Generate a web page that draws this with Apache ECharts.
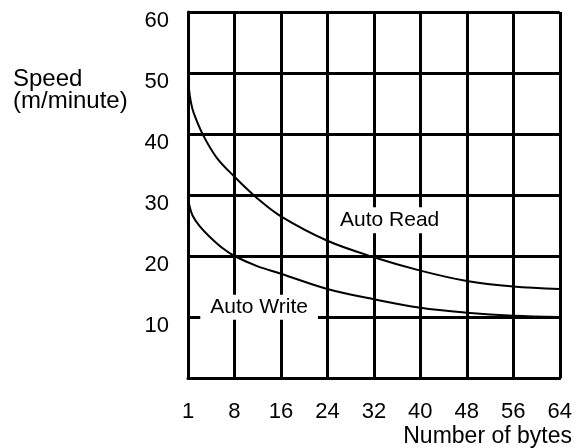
<!DOCTYPE html>
<html>
<head>
<meta charset="utf-8">
<script src="https://cdn.jsdelivr.net/npm/echarts@6/dist/echarts.min.js"></script>
<style>
html,body{margin:0;padding:0;background:#fff;}
#chart{width:575px;height:448px;}
</style>
</head>
<body>
<div id="chart"></div>
<script>
// x tick labels (number of bytes), equally spaced positions 0..8
var xTickLabels = ['1', '8', '16', '24', '32', '40', '48', '56', '64'];
var yTicks = [0, 10, 20, 30, 40, 50, 60];

// Auto Read curve: [tick position, speed]
var autoRead = [
  [0, 50], [0.02, 47.5], [0.06, 45.3], [0.12, 43.5], [0.32, 39.9], [0.62, 36.1],
  [1, 33], [1.5, 29.4], [2, 26.5], [3, 22.5], [4, 19.8], [5, 17.6],
  [6, 15.9], [7, 15.0], [8, 14.6]
];
// Auto Write curve
var autoWrite = [
  [0, 30], [0.03, 28.3], [0.1, 26.6], [0.25, 24.9], [0.46, 23.2], [0.74, 21.3],
  [1, 20], [1.5, 18.3], [2, 17.1], [3, 14.6], [4, 12.9], [5, 11.5],
  [6, 10.7], [7, 10.2], [8, 10.0]
];

var FONT = 'Liberation Sans, Arial, sans-serif';
var chart = echarts.init(document.getElementById('chart'));

function annotation(text, coord, pad) {
  return {
    symbol: 'rect', symbolSize: 1,
    itemStyle: { color: 'rgba(0,0,0,0)' },
    data: [{ coord: coord, value: text }],
    label: {
      show: true, position: 'inside', formatter: text, color: '#000',
      fontSize: 21, fontFamily: FONT, backgroundColor: '#fff', padding: pad, lineHeight: 21
    }
  };
}

chart.setOption({
  animation: false,
  backgroundColor: '#fff',
  grid: { left: 188, right: 15, top: 12, bottom: 70 },
  xAxis: {
    type: 'value', min: 0, max: 8, interval: 1,
    axisLine: { show: true, lineStyle: { color: '#000', width: 3 } },
    axisTick: { show: false },
    splitLine: { show: true, lineStyle: { color: '#000', width: 3 } },
    axisLabel: {
      margin: 23, color: '#000', fontSize: 22, fontFamily: FONT,
      formatter: function (v) { return xTickLabels[Math.round(v)]; }
    }
  },
  yAxis: {
    type: 'value', min: yTicks[0], max: yTicks[yTicks.length - 1], interval: 10,
    axisLine: { show: true, lineStyle: { color: '#000', width: 3 } },
    axisTick: { show: false },
    splitLine: { show: true, lineStyle: { color: '#000', width: 3 } },
    axisLabel: {
      margin: 19, color: '#000', fontSize: 22, fontFamily: FONT,
      formatter: function (v) { return v === 0 ? '' : '{a|' + v + '}'; },
      rich: { a: { fontSize: 22, fontFamily: FONT, color: '#000', padding: [18, 0, 0, 0] } }
    }
  },
  graphic: [
    {
      type: 'text', left: 13, top: 67,
      style: { text: 'Speed\n(m/minute)', font: '24px ' + FONT, fill: '#000', lineHeight: 22 }
    },
    {
      type: 'text', right: 3, top: 425,
      style: { text: 'Number of bytes', font: '23px ' + FONT, fill: '#000', textAlign: 'right' }
    }
  ],
  series: [
    {
      name: 'Auto Read', type: 'line', data: autoRead, smooth: 0.35,
      symbol: 'none', lineStyle: { color: '#000', width: 2 },
      markPoint: annotation('Auto Read', [4.34, 25.85], [3, 9, 2, 9])
    },
    {
      name: 'Auto Write', type: 'line', data: autoWrite, smooth: 0.35,
      symbol: 'none', lineStyle: { color: '#000', width: 2 },
      markPoint: annotation('Auto Write', [1.53, 11.6], [0, 10, 4, 10])
    }
  ]
});
</script>
</body>
</html>
